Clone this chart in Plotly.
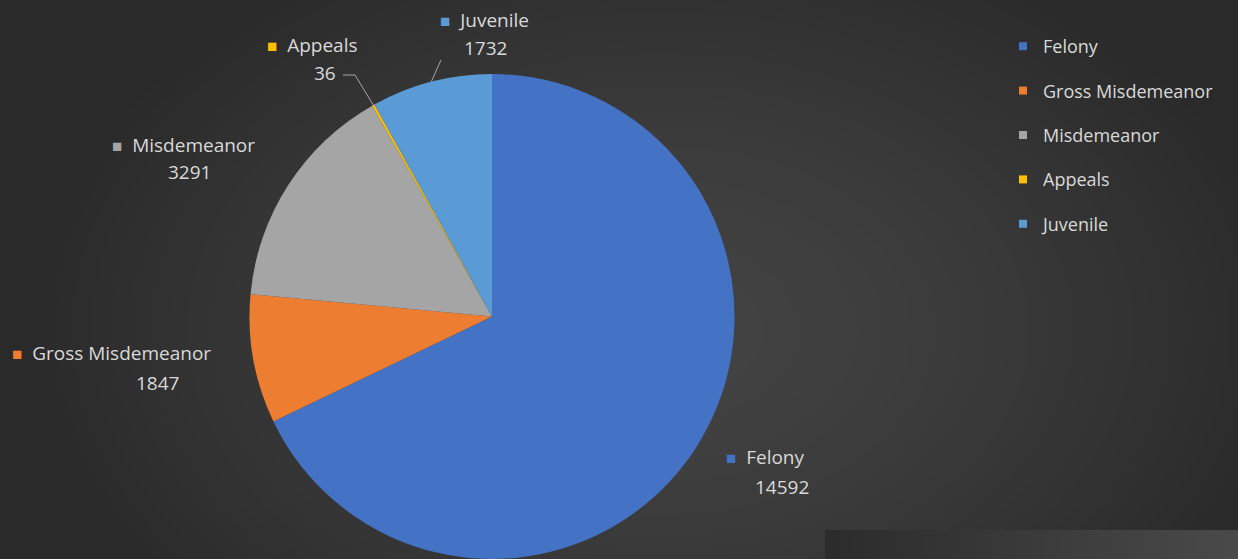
import base64, struct, zlib, math
import numpy as np
import plotly.graph_objects as go

# ---------------- data ----------------
categories = ["Felony", "Gross Misdemeanor", "Misdemeanor", "Appeals", "Juvenile"]
values = [14592, 1847, 3291, 36, 1732]
colors = ["#4472C4", "#ED7D31", "#A5A5A5", "#FFC000", "#5B9BD5"]

W, H = 1238, 559

# ---------------- background gradient (generated PNG) ----------------
def make_png(arr):
    h, w, _ = arr.shape
    raw = b"".join(b"\x00" + arr[i].tobytes() for i in range(h))
    def chunk(tag, data):
        c = struct.pack(">I", len(data)) + tag + data
        return c + struct.pack(">I", zlib.crc32(tag + data) & 0xFFFFFFFF)
    png = b"\x89PNG\r\n\x1a\n"
    png += chunk(b"IHDR", struct.pack(">IIBBBBB", w, h, 8, 2, 0, 0, 0))
    png += chunk(b"IDAT", zlib.compress(raw, 9))
    png += chunk(b"IEND", b"")
    return "data:image/png;base64," + base64.b64encode(png).decode()

yy, xx = np.mgrid[0:H, 0:W].astype(float)
d = np.sqrt(((xx - 660) / 640) ** 2 + ((yy - 330) / 430) ** 2)
v = 68 - 26 * np.clip(d, 0, 1) ** 1.4
# lower-right panel overlay
mask = (xx >= 825) & (yy >= 530)
v = np.where(mask, 44 + 30 * (xx - 825) / (W - 825), v)
img = np.clip(np.stack([v, v, v], axis=-1), 0, 255).astype(np.uint8)
bg_src = make_png(img)

# ---------------- pie geometry ----------------
cx_px, r_px = 492, 242.5
dom_x = [(cx_px - r_px) / W, (cx_px + r_px) / W]
dom_y = [0.0, 2 * r_px / H]
cy_px = H - r_px

def edge_point(idx, scale=1.0):
    total = sum(values)
    cum = sum(values[:idx]) + values[idx] / 2
    ang = 2 * math.pi * cum / total  # clockwise from 12 o'clock
    x = cx_px + r_px * scale * math.sin(ang)
    y = cy_px - r_px * scale * math.cos(ang)
    return x / W, 1 - y / H

fig = go.Figure()
fig.add_trace(go.Pie(
    labels=categories, values=values, sort=False, direction="clockwise",
    rotation=0, marker=dict(colors=colors, line=dict(width=0)),
    textinfo="none", hoverinfo="label+value", showlegend=False,
    domain=dict(x=dom_x, y=dom_y),
))

# legend entries
for i, (c, col) in enumerate(zip(categories, colors)):
    fig.add_trace(go.Scatter(
        x=[None], y=[None], mode="markers", name=c, legendgroup=c,
        marker=dict(symbol="square", size=8, color=col),
    ))

txt_col = "#D9D9D9"
font_fam = "Open Sans"
fs = 19

# label positions: (square-left px, name y px, value center x px, value y px)
label_pos = {
    "Juvenile": (438, 20, 485, 48),
    "Appeals": (265, 45, 325, 73),
    "Misdemeanor": (110, 145, 190, 172),
    "Gross Misdemeanor": (10, 353, 157, 383),
    "Felony": (724, 457, 782, 487),
}
annotations = []
for c, v_, col in zip(categories, values, colors):
    lx, ly, vx, vy = label_pos[c]
    annotations.append(dict(
        x=lx / W, y=1 - ly / H, xref="paper", yref="paper",
        xanchor="left", yanchor="middle", showarrow=False,
        text=f"<span style='color:{col};font-size:17px'>■</span>&nbsp; {c}",
        font=dict(family=font_fam, size=fs, color=txt_col),
    ))
    annotations.append(dict(
        x=vx / W, y=1 - vy / H, xref="paper", yref="paper",
        xanchor="center", yanchor="middle", showarrow=False,
        text=f"{v_}", font=dict(family=font_fam, size=fs, color=txt_col),
    ))

shapes = []
lc = "#A6A6A6"
# Appeals leader
ax, ay = edge_point(3)
shapes.append(dict(type="path", xref="paper", yref="paper",
                   path=f"M {ax},{ay} L {355/W},{1-75/H} L {343/W},{1-75/H}",
                   line=dict(color=lc, width=1)))
# Juvenile leader
jx, jy = edge_point(4)
shapes.append(dict(type="line", xref="paper", yref="paper",
                   x0=jx, y0=jy, x1=441 / W, y1=1 - 60 / H,
                   line=dict(color=lc, width=1)))

fig.update_layout(
    width=W, height=H,
    margin=dict(l=0, r=0, t=0, b=0),
    paper_bgcolor="#333333", plot_bgcolor="rgba(0,0,0,0)",
    xaxis=dict(visible=False), yaxis=dict(visible=False),
    images=[dict(source=bg_src, xref="paper", yref="paper", x=0, y=1,
                 sizex=1, sizey=1, sizing="stretch", layer="below",
                 xanchor="left", yanchor="top")],
    legend=dict(x=1003 / W, y=1 - 28 / H, xanchor="left", yanchor="top",
                font=dict(family=font_fam, size=18, color=txt_col),
                tracegroupgap=18, itemwidth=30, bgcolor="rgba(0,0,0,0)"),
    annotations=annotations, shapes=shapes,
)

fig.write_html("out.html", config={"displayModeBar": False},
               post_script="document.body.style.margin='0';document.body.style.overflow='hidden';")
